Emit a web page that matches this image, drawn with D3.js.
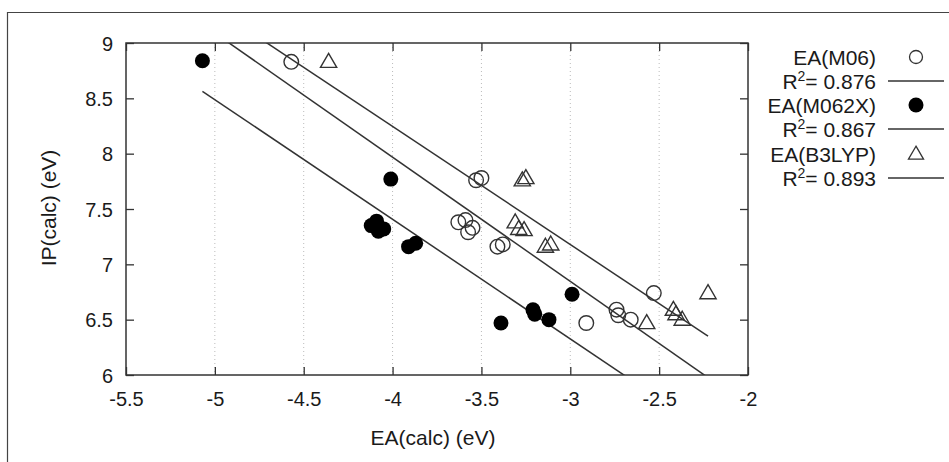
<!DOCTYPE html>
<html>
<head>
<meta charset="utf-8">
<script src="https://cdn.jsdelivr.net/npm/d3@7"></script>
<style>
  body { margin: 0; background: #fff; }
  text { font-family: "Liberation Sans", Arial, sans-serif; fill: #1a1a1a; }
</style>
</head>
<body>
<svg id="chart" width="949" height="462"></svg>
<script>
// EA(calc), IP(calc) pairs
const m06_ea  = [-4.57, -3.53, -3.50, -3.63, -3.59, -3.575, -3.55, -3.41, -3.38, -2.91, -2.74, -2.73, -2.66, -2.53];
const m06_ip  = [8.83, 7.76, 7.78, 7.38, 7.40, 7.29, 7.33, 7.16, 7.18, 6.47, 6.59, 6.54, 6.50, 6.74];

const m062x_ea = [-5.07, -4.01, -4.12, -4.08, -4.05, -4.09, -3.91, -3.87, -2.99, -3.21, -3.20, -3.12, -3.39];
const m062x_ip = [8.84, 7.77, 7.35, 7.30, 7.32, 7.39, 7.16, 7.19, 6.73, 6.59, 6.55, 6.50, 6.47];

const b3lyp_ea = [-4.36, -3.27, -3.25, -3.31, -3.29, -3.26, -3.14, -3.11, -2.57, -2.42, -2.405, -2.37, -2.225];
const b3lyp_ip = [8.83, 7.76, 7.78, 7.38, 7.32, 7.31, 7.16, 7.18, 6.47, 6.59, 6.55, 6.50, 6.74];

// linear fits: slope, intercept, R^2
const fit_names = ["M06", "M062X", "B3LYP"];
const fit_slope = [-1.122, -1.081, -1.067];
const fit_icpt  = [3.480, 3.083, 3.978];
const fit_r2    = ["0.876", "0.867", "0.893"];
const fit_range = [-5.07, -2.225];

const xTicks = [-5.5, -5, -4.5, -4, -3.5, -3, -2.5, -2];
const yTicks = [6, 6.5, 7, 7.5, 8, 8.5, 9];

const svg = d3.select("#chart");
const W = 949, H = 462;
const pLeft = 126, pRight = 748, pTop = 43, pBottom = 375;

const x = d3.scaleLinear().domain([-5.5, -2]).range([pLeft, pRight]);
const y = d3.scaleLinear().domain([6, 9]).range([pBottom, pTop]);
const fmt = d => String(d);   // plain hyphen minus, like gnuplot

// outer frame (top + left edges only, as in the source crop)
svg.append("line").attr("x1", 7).attr("x2", W).attr("y1", 12.5).attr("y2", 12.5)
    .attr("stroke", "#444").attr("stroke-width", 1.2);
svg.append("line").attr("x1", 7.5).attr("x2", 7.5).attr("y1", 12).attr("y2", H)
    .attr("stroke", "#444").attr("stroke-width", 1.2);

svg.append("clipPath").attr("id", "plotclip")
    .append("rect").attr("x", pLeft).attr("y", pTop)
    .attr("width", pRight - pLeft).attr("height", pBottom - pTop);

// vertical dotted grid
svg.append("g").selectAll("line")
    .data(xTicks.slice(1, -1))
    .enter().append("line")
    .attr("x1", d => x(d)).attr("x2", d => x(d))
    .attr("y1", pTop).attr("y2", pBottom)
    .attr("stroke", "#bbb").attr("stroke-width", 1)
    .attr("stroke-dasharray", "1,3");

// axes with inward ticks
const tickLen = 8;
const axB = svg.append("g").attr("transform", `translate(0,${pBottom})`)
    .call(d3.axisBottom(x).tickValues(xTicks).tickSizeInner(-tickLen).tickSizeOuter(0).tickPadding(17).tickFormat(fmt));
const axT = svg.append("g").attr("transform", `translate(0,${pTop})`)
    .call(d3.axisTop(x).tickValues(xTicks).tickSizeInner(-tickLen).tickSizeOuter(0).tickFormat(""));
const axL = svg.append("g").attr("transform", `translate(${pLeft},0)`)
    .call(d3.axisLeft(y).tickValues(yTicks).tickSizeInner(-tickLen).tickSizeOuter(0).tickPadding(13).tickFormat(fmt));
const axR = svg.append("g").attr("transform", `translate(${pRight},0)`)
    .call(d3.axisRight(y).tickValues(yTicks).tickSizeInner(-tickLen).tickSizeOuter(0).tickFormat(""));

[axB, axT, axL, axR].forEach(a => {
    a.select(".domain").remove();
    a.selectAll(".tick line").attr("stroke", "#333").attr("stroke-width", 1.3);
    a.selectAll("text").attr("font-size", 20).attr("fill", "#1a1a1a")
        .style("font-family", "'Liberation Sans', Arial, sans-serif");
});
axB.selectAll("text").attr("dy", "0.71em");
axL.selectAll("text").attr("dy", "0.36em");

// plot box
svg.append("rect").attr("x", pLeft).attr("y", pTop)
    .attr("width", pRight - pLeft).attr("height", pBottom - pTop)
    .attr("fill", "none").attr("stroke", "#333").attr("stroke-width", 1.5);

// axis titles
svg.append("text").attr("x", (pLeft + pRight) / 2 - 4).attr("y", 445)
    .attr("text-anchor", "middle").attr("font-size", 21).text("EA(calc) (eV)");
svg.append("text").attr("transform", "translate(56,208) rotate(-90)")
    .attr("text-anchor", "middle").attr("font-size", 21).text("IP(calc) (eV)");

// fit lines
const plot = svg.append("g").attr("clip-path", "url(#plotclip)");
const line = d3.line().x(d => x(d[0])).y(d => y(d[1]));
fit_slope.forEach((m, i) => {
    const pts = fit_range.map(v => [v, fit_icpt[i] + m * v]);
    plot.append("path").attr("d", line(pts))
        .attr("fill", "none").attr("stroke", "#333").attr("stroke-width", 1.5);
});

const zip = (a, b) => a.map((v, i) => [v, b[i]]);
const triPath = s => `M0,${-s * 0.6}L${s * 0.58},${s * 0.4}L${-s * 0.58},${s * 0.4}Z`;

// M06 open circles
plot.append("g").selectAll("circle").data(zip(m06_ea, m06_ip)).enter()
    .append("circle").attr("cx", d => x(d[0])).attr("cy", d => y(d[1])).attr("r", 7.3)
    .attr("fill", "none").attr("stroke", "#333").attr("stroke-width", 1.4);
// M062X filled circles
plot.append("g").selectAll("circle").data(zip(m062x_ea, m062x_ip)).enter()
    .append("circle").attr("cx", d => x(d[0])).attr("cy", d => y(d[1])).attr("r", 7.5)
    .attr("fill", "#000");
// B3LYP open triangles
plot.append("g").selectAll("path").data(zip(b3lyp_ea, b3lyp_ip)).enter()
    .append("path").attr("transform", d => `translate(${x(d[0])},${y(d[1])})`)
    .attr("d", triPath(14))
    .attr("fill", "none").attr("stroke", "#333").attr("stroke-width", 1.4);

// legend
const lg = svg.append("g");
const rowY = [57, 81, 105, 129, 154, 178];
const legTextX = 876, legMarkX = 916;
fit_names.forEach((n, i) => {
    const y1 = rowY[i * 2], y2 = rowY[i * 2 + 1];
    lg.append("text").attr("x", legTextX).attr("y", y1).attr("dy", "0.36em")
        .attr("text-anchor", "end").attr("font-size", 21).text("EA(" + n + ")");
    const t = lg.append("text").attr("x", legTextX).attr("y", y2).attr("dy", "0.36em")
        .attr("text-anchor", "end").attr("font-size", 21);
    t.append("tspan").text("R");
    t.append("tspan").attr("font-size", 14).attr("dy", "-0.55em").text("2");
    t.append("tspan").attr("dy", "0.37em").text("= " + fit_r2[i]);
    lg.append("line").attr("x1", 888).attr("x2", 944).attr("y1", y2).attr("y2", y2)
        .attr("stroke", "#333").attr("stroke-width", 1.5);
    if (i === 0) {
        lg.append("circle").attr("cx", legMarkX).attr("cy", y1).attr("r", 6.5)
            .attr("fill", "none").attr("stroke", "#333").attr("stroke-width", 1.3);
    } else if (i === 1) {
        lg.append("circle").attr("cx", legMarkX).attr("cy", y1).attr("r", 7.5).attr("fill", "#000");
    } else {
        lg.append("path").attr("transform", `translate(${legMarkX},${y1})`)
            .attr("d", triPath(13)).attr("fill", "none").attr("stroke", "#333").attr("stroke-width", 1.3);
    }
});
</script>
</body>
</html>
